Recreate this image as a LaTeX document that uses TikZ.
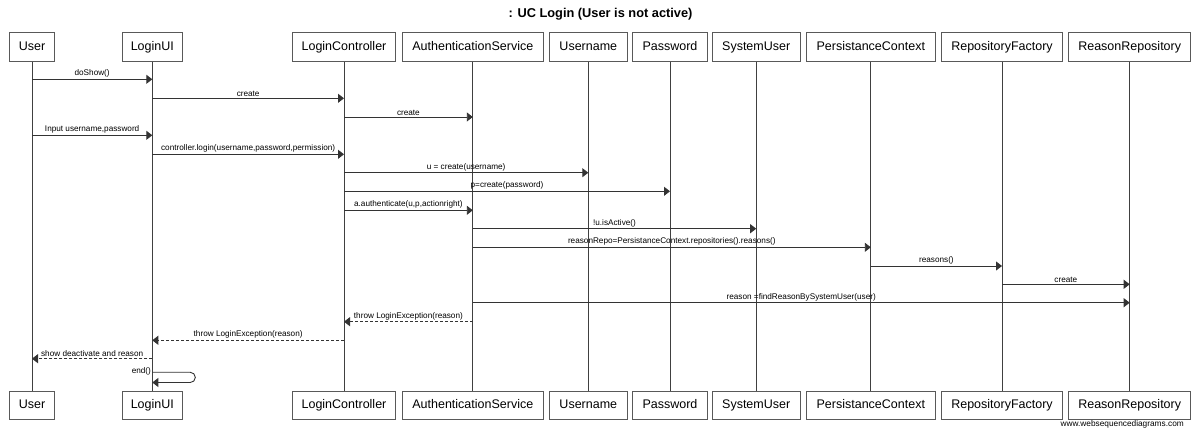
\documentclass[tikz,border=0pt]{standalone}
\usepackage{fontspec}
\setmainfont{Liberation Sans}
\usetikzlibrary{arrows.meta}
\begin{document}
\begin{tikzpicture}[x=1pt,y=-1pt,
  part/.style={draw=black!65, line width=0.9pt, fill=white, inner sep=0pt,
    text height=9.2pt, text depth=2.7pt,
    font=\fontsize{12.5}{14}\selectfont},
  life/.style={draw=black!75, line width=0.9pt},
  msg/.style={draw=black!80, line width=0.9pt, -{Triangle[length=6pt,width=9pt]}},
  ret/.style={msg, dash pattern=on 3pt off 2pt},
  lbl/.style={font=\fontsize{8.2}{9}\selectfont, inner sep=1.2pt, anchor=south}]
\useasboundingbox (0,0) rectangle (1200,435);
\node[font=\bfseries\fontsize{12.8}{14}\selectfont] (title) at (600.5,14) {: UC Login (User is not active)};
\foreach \n/\x/\w/\t in {User/32/45.4/User, LoginUI/152.3/60/LoginUI,
    LC/344/103.4/LoginController, AS/472.8/141.7/AuthenticationService,
    UN/588.3/77.3/Username, PW/670/75.4/Password, SU/756.2/87.7/SystemUser,
    PC/870.8/128.3/PersistanceContext, RF/1002/120.6/RepositoryFactory,
    RR/1129.7/122/ReasonRepository}{
  \node[part, minimum width=\w pt, minimum height=29pt] (t\n) at (\x,46.8) {\t};
  \node[part, minimum width=\w pt, minimum height=28pt] (b\n) at (\x,405) {\t};
  \draw[life] (t\n) -- (b\n);
}
\draw[msg] (tUser |- 0,79.3) -- node[lbl]{doShow()} (tLoginUI |- 0,79.3);
\draw[msg] (tLoginUI |- 0,98.3) -- node[lbl]{create} (tLC |- 0,98.3);
\draw[msg] (tLC |- 0,117) -- node[lbl]{create} (tAS |- 0,117);
\draw[msg] (tUser |- 0,135.3) -- node[lbl]{Input username,password} (tLoginUI |- 0,135.3);
\draw[msg] (tLoginUI |- 0,154.3) -- node[lbl]{controller.login(username,password,permission)} (tLC |- 0,154.3);
\draw[msg] (tLC |- 0,172.7) -- node[lbl]{u = create(username)} (tUN |- 0,172.7);
\draw[msg] (tLC |- 0,191.3) -- node[lbl]{p=create(password)} (tPW |- 0,191.3);
\draw[msg] (tLC |- 0,210.3) -- node[lbl]{a.authenticate(u,p,actionright)} (tAS |- 0,210.3);
\draw[msg] (tAS |- 0,228.7) -- node[lbl]{!u.isActive()} (tSU |- 0,228.7);
\draw[msg] (tAS |- 0,247.3) -- node[lbl]{reasonRepo=PersistanceContext.repositories().reasons()} (tPC |- 0,247.3);
\draw[msg] (tPC |- 0,266) -- node[lbl]{reasons()} (tRF |- 0,266);
\draw[msg] (tRF |- 0,284.3) -- node[lbl]{create} (tRR |- 0,284.3);
\draw[msg] (tAS |- 0,302.7) -- node[lbl]{reason =findReasonBySystemUser(user)} (tRR |- 0,302.7);
\draw[ret] (tAS |- 0,321.7) -- node[lbl]{throw LoginException(reason)} (tLC |- 0,321.7);
\draw[ret] (tLC |- 0,340.3) -- node[lbl]{throw LoginException(reason)} (tLoginUI |- 0,340.3);
\draw[ret] (tLoginUI |- 0,358.7) -- node[lbl]{show deactivate and reason} (tUser |- 0,358.7);
\draw[msg, rounded corners=5pt] (tLoginUI |- 0,372.3) -- ++(43,0) -- ++(0,10.2) -- (tLoginUI |- 0,382.5);
\node[lbl, anchor=east] (endlbl) at (tLoginUI |- 0,371.5) {end()};
\node[font=\fontsize{8.3}{9}\selectfont, anchor=east, inner sep=0pt] (wsd) at (1184,424.3) {www.websequencediagrams.com};
\end{tikzpicture}
\end{document}
